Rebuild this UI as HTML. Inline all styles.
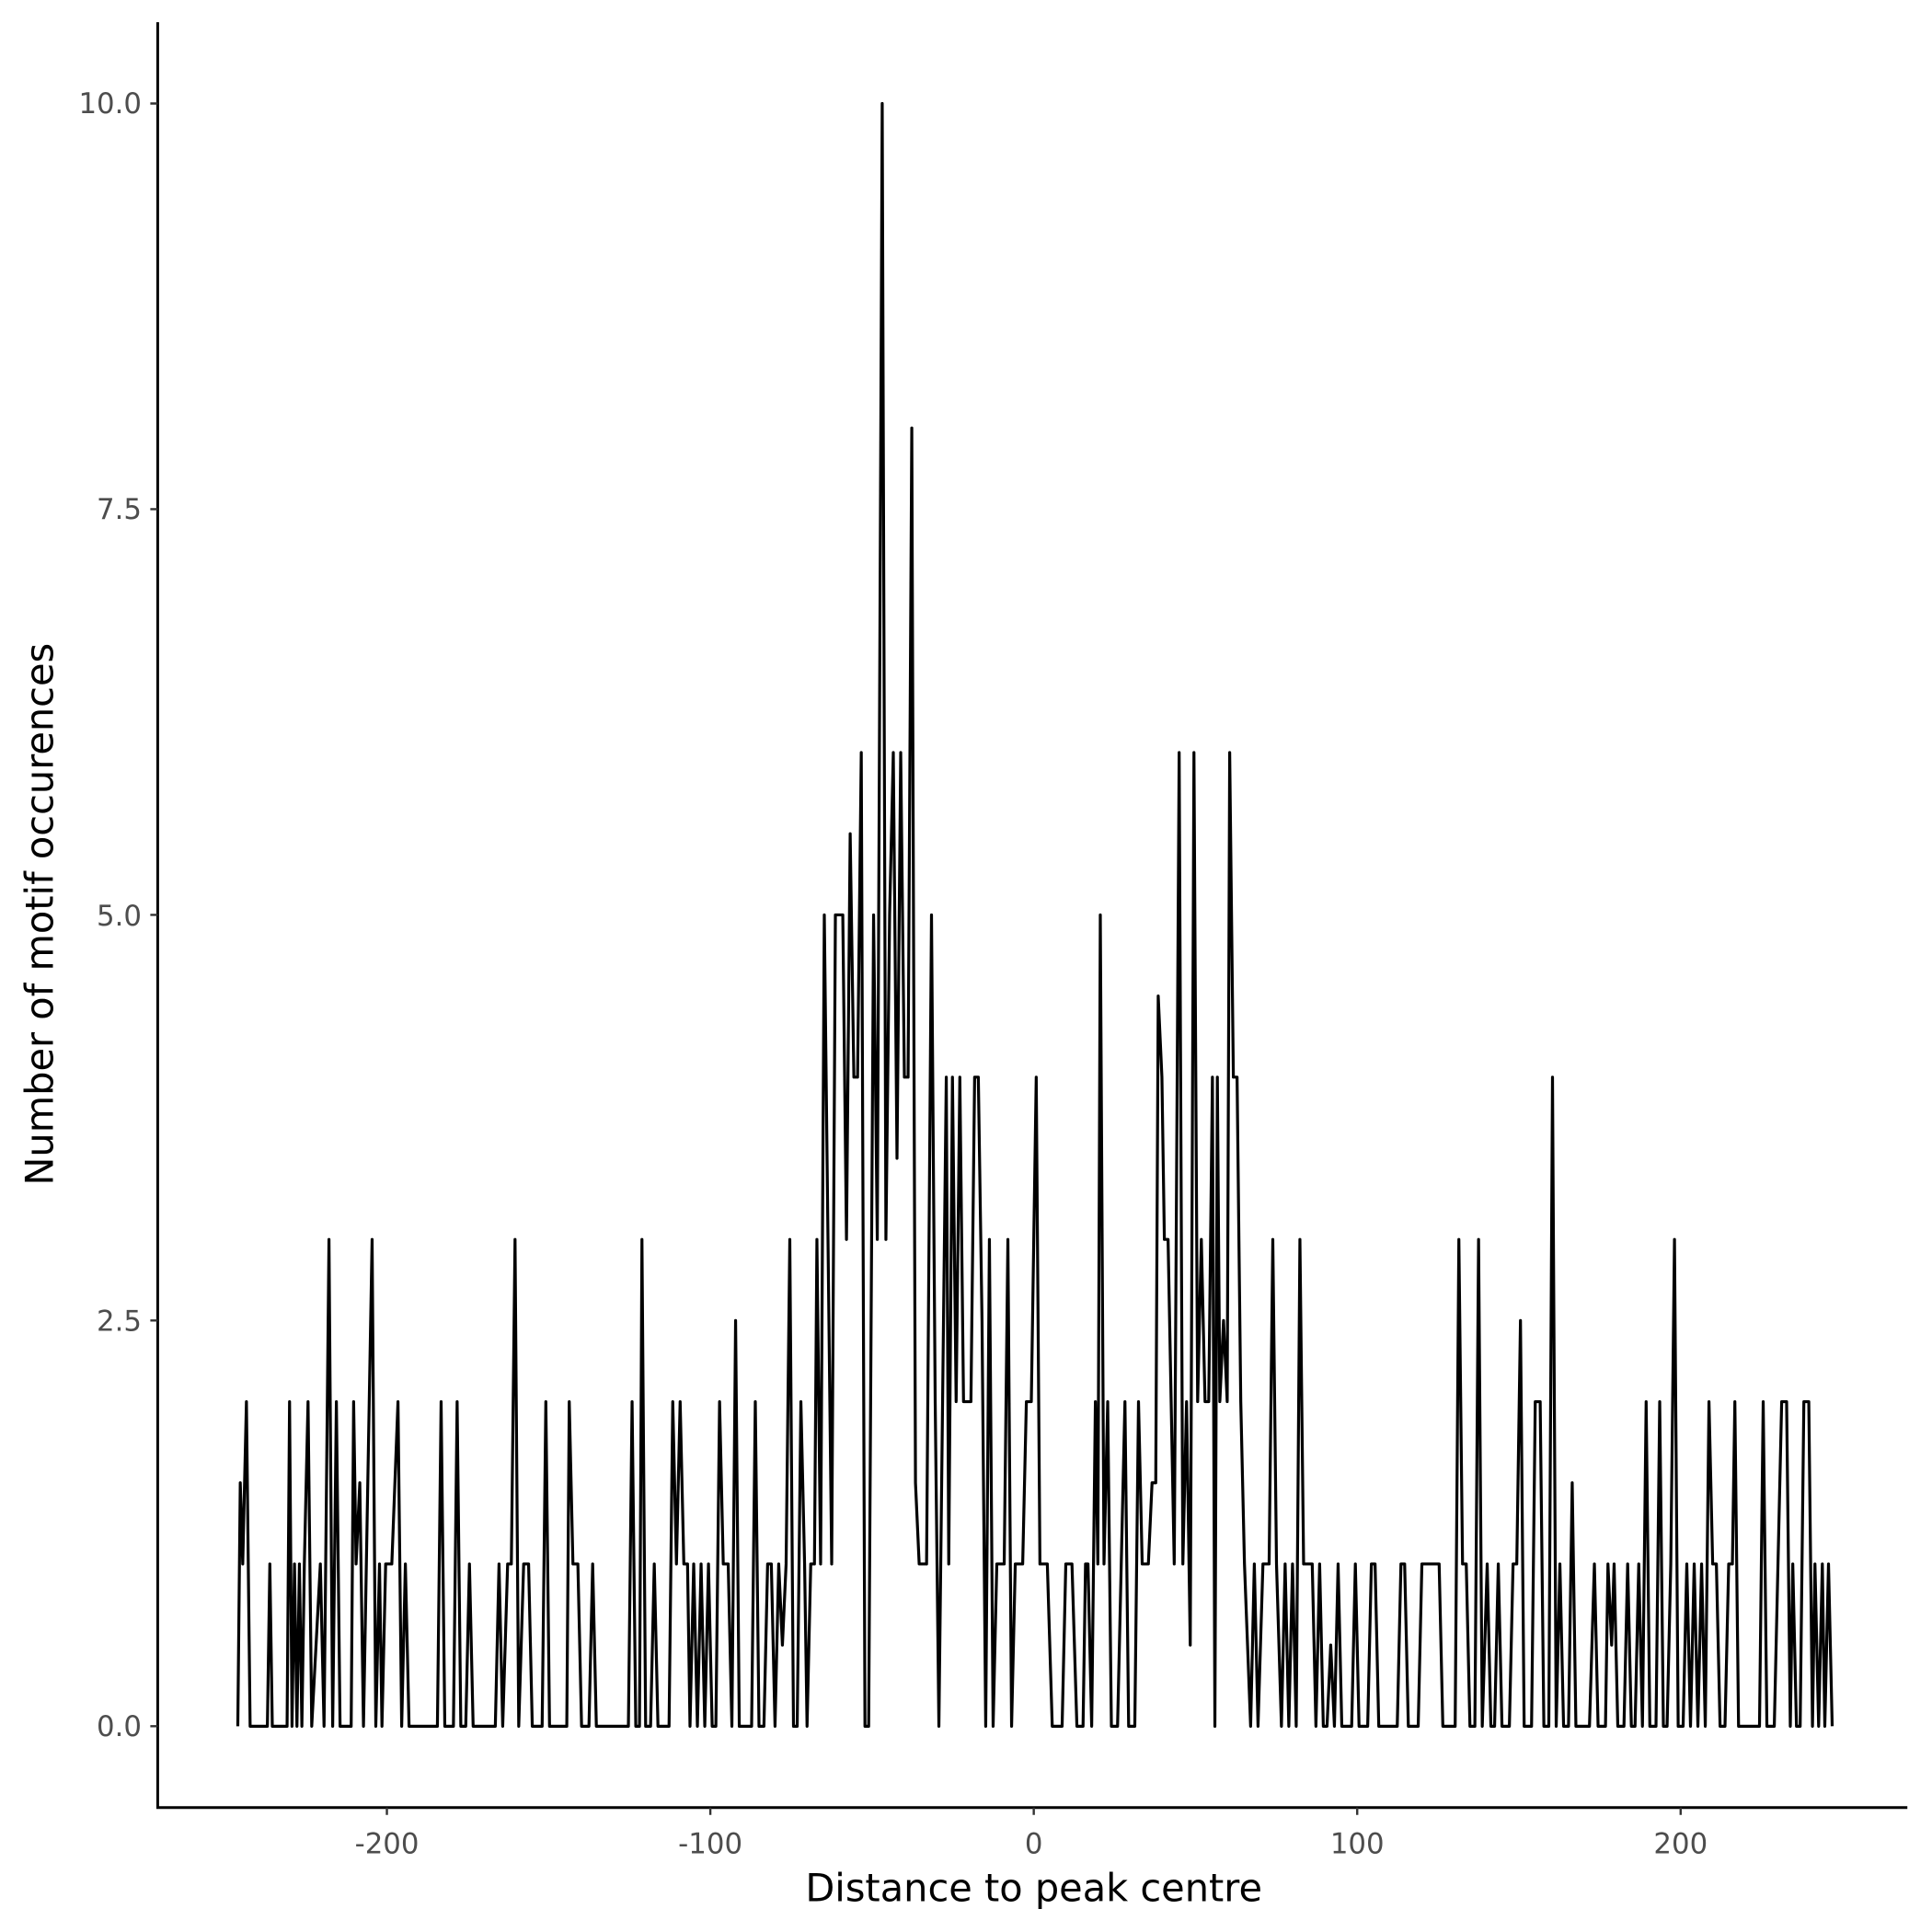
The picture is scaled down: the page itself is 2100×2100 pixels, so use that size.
<!DOCTYPE html>
<html><head><meta charset="utf-8"><style>html,body{margin:0;padding:0;background:#fff}svg{display:block}</style></head>
<body>
<svg width="2100" height="2100" viewBox="0 0 1568 1568" xmlns="http://www.w3.org/2000/svg" font-family="'DejaVu Sans', 'Liberation Sans', sans-serif">
<rect width="1568" height="1568" fill="#fff"/>
<g transform="translate(0,1401) scale(1,-131.7)">
<polyline fill="none" stroke="#000" stroke-width="3.2" vector-effect="non-scaling-stroke" stroke-linejoin="round" points="193,0 195,1.5 197,1 200,2 203,0 217,0 219,1 221,0 233,0 235,2 237,0 239,1 241,0 243,1 245,0 247,1 250,2 253,0 260,1 263,0 267,3 270,0 273,2 276,0 285,0 287,2 289,1 292,1.5 295,0 302,3 305,0 308,1 310,0 313,1 318,1 323,2 326,0 329,1 332,0 355,0 358,2 361,0 368,0 371,2 374,0 378,0 381,1 384,0 402,0 405,1 408,0 412,1 415,1 418,3 421,0 425,1 429,1 432,0 440,0 443,2 446,0 460,0 462,2 465,1 469,1 472,0 478,0 481,1 484,0 510,0 513,2 516,0 519,0 521,3 524,0 528,0 531,1 534,0 543,0 546,2 549,1 552,2 555,1 558,1 560,0 563,1 566,0 569,1 572,0 575,1 578,0 581,0 584,2 587,1 591,1 594,0 597,2.5 600,0 610,0 613,2 616,0 620,0 623,1 626,1 629,0 632,1 635,0.5 638,1 641,3 644,0 647,0 650,2 653,1 655,0 658,1 661,1 663,3 666,1 669,5 672,3 675,1 678,5 684,5 687,3 690,5.5 693,4 696,4 699,6 702,0 705,0 709,5 712,3 716,10 719,3 722,5 725,6 728,3.5 731,6 734,4 737,4 740,8 743,1.5 746,1 752,1 756,5 759,2 762,0 765,2 768,4 770,1 773,4 776,2 779,4 782,2 785,2 788,2 791,4 794,4 797,2.5 800,0 803,3 806,0 809,1 815,1 818,3 821,0 824,1 830,1 833,2 837,2 841,4 844,1 850,1 854,0 862,0 865,1 870,1 874,0 879,0 881,1 883,1 886,0 889,2 891,1 893,5 896,1 899,2 902,0 907,0 910,1 913,2 916,0 921,0 924,2 927,1 932,1 935,1.5 938,1.5 940,4.5 943,4 945,3 948,3 953,1 957,6 960,1 963,2 966,0.5 969,6 972,2 975,3 978,2 981,2 984,4 986,0 988,4 990,2 993,2.5 996,2 998,6 1001,4 1004,4 1007,2 1010,1 1015,0 1018,1 1021,0 1025,1 1030,1 1033,3 1036,1 1040,0 1043,1 1046,0 1049,1 1052,0 1055,3 1058,1 1065,1 1068,0 1071,1 1074,0 1077,0 1080,0.5 1083,0 1086,1 1089,0 1097,0 1100,1 1103,0 1110,0 1113,1 1116,1 1119,0 1134,0 1137,1 1140,1 1143,0 1151,0 1154,1 1168,1 1171,0 1181,0 1184,3 1187,1 1190,1 1193,0 1197,0 1200,3 1203,0 1207,1 1210,0 1213,0 1216,1 1219,0 1225,0 1228,1 1231,1 1234,2.5 1237,0 1243,0 1246,2 1250,2 1253,0 1257,0 1260,4 1263,0 1266,1 1269,0 1273,0 1276,1.5 1279,0 1290,0 1294,1 1297,0 1303,0 1305,1 1308,0.5 1310,1 1313,0 1318,0 1321,1 1324,0 1327,0 1330,1 1333,0 1336,2 1339,0 1344,0 1347,2 1350,0 1353,0 1356,1 1359,3 1362,0 1366,0 1369,1 1372,0 1375,1 1378,0 1381,1 1384,0 1387,2 1390,1 1393,1 1396,0 1400,0 1403,1 1406,1 1408,2 1411,0 1428,0 1431,2 1434,0 1440,0 1443,1 1446,2 1450,2 1453,0 1455,1 1458,0 1461,0 1464,2 1468,2 1471,0 1473,1 1476,0 1479,1 1481,0 1484,1 1487,0"/>
</g>
<g stroke="#000" stroke-width="2.2" fill="none">
<path d="M128,18 V1467 H1548"/>
</g>
<g stroke="#333" stroke-width="1.8">
<path d="M122,1401H128 M122,1071.7H128 M122,742.5H128 M122,413.2H128 M122,84H128"/>
<path d="M314,1467V1473 M576.5,1467V1473 M839,1467V1473 M1101.5,1467V1473 M1364,1467V1473"/>
</g>
<g fill="#4d4d4d" font-size="23" text-anchor="end">
<text x="115" y="1409">0.0</text>
<text x="115" y="1080">2.5</text>
<text x="115" y="751">5.0</text>
<text x="115" y="421">7.5</text>
<text x="115" y="92">10.0</text>
</g>
<g fill="#4d4d4d" font-size="23" text-anchor="middle">
<text x="314" y="1504">-200</text>
<text x="576.5" y="1504">-100</text>
<text x="839" y="1504">0</text>
<text x="1101.5" y="1504">100</text>
<text x="1364" y="1504">200</text>
</g>
<text x="839" y="1543" font-size="31" text-anchor="middle" fill="#000">Distance to peak centre</text>
<text transform="translate(43,742) rotate(-90)" font-size="31" text-anchor="middle" fill="#000">Number of motif occurences</text>
</svg>
</body></html>
